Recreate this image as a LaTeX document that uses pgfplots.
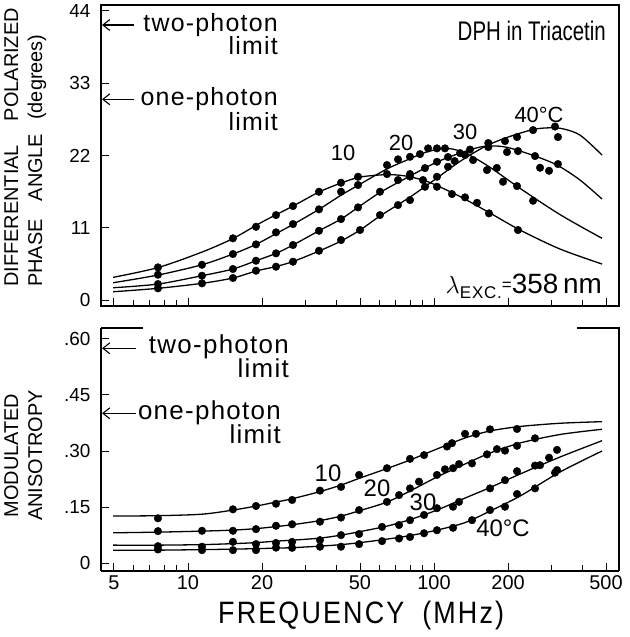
\documentclass[border=0pt]{standalone}
\usepackage{pgfplots}
\pgfplotsset{compat=1.18}
\usepackage{fontspec}
\setmainfont{Liberation Sans}
\newfontfamily\lsfont[LetterSpace=5]{Liberation Sans}
\newfontfamily\wsfont[LetterSpace=8]{Liberation Sans}
\usetikzlibrary{arrows.meta}
\usepackage{graphicx}
\newcommand{\fs}[1]{\fontsize{#1}{#1}\selectfont}
\begin{document}
\begin{tikzpicture}[x=1bp,y=1bp]
\useasboundingbox (0,0) rectangle (630,-637);
% ---------------- top panel ----------------
\begin{axis}[xmode=log, at={(101bp,-306bp)}, anchor=south west,
  scale only axis, width=518bp, height=301bp,
  xmin=4.43, xmax=565, ymin=-0.91, ymax=44.9,
  xtick={5,10,20,50,100,200,500},
  minor xtick={6,7,8,9,30,40,60,70,80,90,300,400},
  xticklabels={},
  ytick={0,11,22,33,44}, yticklabels={0,11,22,33,44},
  xtick pos=bottom, ytick pos=left, tick align=inside,
  major tick length=8bp, minor tick length=6bp,
  tick style={black, line width=0.9bp},
  axis line style={line width=1.1bp, black},
  yticklabel style={font=\fs{19}, xshift=-7bp}]
\addplot[black, line width=1.3bp, smooth, mark=none] coordinates {(4.96,3.45) (7.55,4.94) (11.4,7.30) (15.23,9.36) (20.0,11.87) (26.72,14.30) (34.08,16.43) (41.88,17.80) (50.04,18.71) (63.2,19.08) (72,19.0) (79.9,18.75) (90.2,18.25) (100.9,17.55) (127.6,15.75) (168.9,13.24) (223.7,10.65) (325.3,7.76) (482,5.48)};
\addplot[black, line width=1.3bp, smooth, mark=none] coordinates {(4.96,2.63) (7.55,3.80) (11.4,5.37) (15.23,7.00) (18.9,8.47) (22.79,10.1) (26.72,11.5) (34.08,13.80) (41.88,15.95) (49.11,17.45) (64.4,19.95) (79.9,21.5) (91,22.4) (105.8,23.0) (120,22.95) (140.1,22.0) (168.9,20.2) (223.7,17.0) (325.3,13.0) (482,9.39)};
\addplot[black, line width=1.3bp, smooth, mark=none] coordinates {(4.96,1.87) (7.55,2.43) (11.4,3.70) (15.23,4.72) (18.9,5.98) (22.79,7.10) (26.72,8.37) (34.08,10.54) (41.88,12.32) (49.11,14.10) (60.3,16.36) (79.9,18.87) (102.8,21.0) (127.6,22.36) (153.8,23.28) (177,23.45) (203.7,23.13) (257.4,21.91) (316.2,20.54) (392.3,18.26) (482,15.37)};
\addplot[black, line width=1.3bp, smooth, mark=none] coordinates {(4.96,1.26) (7.55,1.78) (11.4,2.54) (15.23,3.35) (18.9,4.41) (22.79,5.10) (26.72,5.86) (34.08,7.45) (41.88,8.98) (50.04,10.65) (60.3,12.78) (79.9,15.67) (102.8,18.56) (121.3,20.54) (140.1,22.06) (166,23.6) (203.7,24.9) (252.7,25.95) (290,26.2) (330,26.1) (392.3,25.1) (482,22.06)};
\addplot[black, only marks, mark=*, mark size=3.8bp] coordinates {(7.55,4.97) (15.23,9.39) (18.9,11.15) (22.79,12.93) (26.72,14.30) (34.08,16.48) (41.88,17.85) (49.11,18.76) (64.4,19.17) (79.9,18.79) (90.2,18.26) (102.8,17.24) (118.3,16.13) (133.7,15.62) (149.6,14.80) (167.3,13.19) (219.5,10.65)};
\addplot[black, only marks, mark=*, mark size=3.8bp] coordinates {(7.55,3.85) (11.4,5.37) (15.23,7.00) (18.9,8.47) (22.79,10.30) (26.72,11.56) (34.08,13.80) (41.88,16.48) (49.11,17.50) (64.4,20.54) (71.4,21.41) (79.9,21.80) (87.7,22.21) (94.6,23.08) (102.8,23.08) (110.8,23.08) (144.1,21.30) (164.2,19.78) (180,20.1) (190.8,18.0) (217.5,17.34) (252.7,15.11)};
\addplot[black, only marks, mark=*, mark size=3.8bp] coordinates {(7.55,2.43) (11.4,3.70) (15.23,4.72) (18.9,5.98) (22.79,7.10) (26.72,8.37) (34.08,10.54) (41.88,12.32) (49.11,14.10) (60.3,16.48) (71.4,18.26) (79.9,19.17) (91.9,20.08) (102.8,21.04) (114,21.76) (127.6,22.36) (140.1,22.9) (166.2,23.28) (198,22.52) (219.5,22.67) (257.4,21.91) (269.8,20.13) (293.5,19.67) (319,20.69)};
\addplot[black, only marks, mark=*, mark size=3.8bp] coordinates {(7.55,1.78) (11.4,2.54) (15.23,3.35) (18.9,4.46) (22.79,5.07) (26.72,5.83) (34.08,7.50) (41.88,9.13) (50.04,10.65) (60.3,12.93) (71.4,14.45) (79.9,15.21) (91.9,17.24) (102.8,18.76) (114,20.28) (121.3,21.15) (133.7,22.06) (166.2,23.89) (194.4,24.19) (217.5,24.80) (252.7,25.86) (310.4,26.40) (319,24.80)};
\end{axis}
% ---------------- bottom panel ----------------
\begin{axis}[xmode=log, at={(101bp,-571bp)}, anchor=south west,
  scale only axis, width=518bp, height=243bp,
  xmin=4.43, xmax=565, ymin=-0.021, ymax=0.629,
  xtick={5,10,20,50,100,200,500},
  minor xtick={6,7,8,9,30,40,60,70,80,90,300,400},
  xticklabels={5,10,20,50,100,200,500},
  ytick={0,0.15,0.3,0.45,0.6}, yticklabels={0,.15,.30,.45,.60},
  axis x line*=bottom, axis y line*=left,
  xtick pos=bottom, ytick pos=left, tick align=inside,
  major tick length=8bp, minor tick length=6bp,
  tick style={black, line width=0.9bp},
  axis line style={line width=1.1bp, black, -},
  yticklabel style={font=\fs{19}, xshift=-7bp},
  xticklabel style={font=\fs{20}, yshift=-1bp}]
\addplot[black, line width=1.3bp, smooth, mark=none] coordinates {(4.96,0.126) (7.55,0.127) (11.4,0.131) (15.23,0.142) (18.9,0.1527) (22.79,0.1634) (26.72,0.1728) (34.4,0.1915) (41.88,0.2089) (50.04,0.2277) (64.4,0.2531) (79.9,0.2759) (102.8,0.3054) (133.7,0.3348) (168.9,0.3536) (223.7,0.3656) (325.3,0.3742) (482,0.3785)};
\addplot[black, line width=1.3bp, smooth, mark=none] coordinates {(4.96,0.0812) (7.55,0.083) (11.4,0.0857) (15.23,0.0884) (18.9,0.0924) (22.79,0.0978) (26.72,0.1031) (34.4,0.1138) (41.88,0.1259) (50.04,0.1406) (64.4,0.1634) (79.9,0.1929) (102.8,0.2304) (133.7,0.2652) (168.9,0.2946) (223.7,0.3214) (325.3,0.3442) (482,0.3581)};
\addplot[black, line width=1.3bp, smooth, mark=none] coordinates {(4.96,0.0482) (7.55,0.0482) (11.4,0.0496) (15.23,0.0522) (18.9,0.0549) (22.79,0.0589) (26.72,0.0616) (34.4,0.067) (41.88,0.075) (50.04,0.0844) (64.4,0.0991) (79.9,0.1165) (102.8,0.142) (133.7,0.1741) (168.9,0.2022) (223.7,0.2384) (325.3,0.2839) (482,0.3276)};
\addplot[black, line width=1.3bp, smooth, mark=none] coordinates {(4.96,0.0348) (7.55,0.0348) (11.4,0.0362) (15.23,0.0375) (18.9,0.0388) (22.79,0.0402) (26.72,0.0415) (34.4,0.0455) (41.88,0.0496) (50.04,0.0549) (64.4,0.0643) (79.9,0.0737) (102.8,0.0884) (133.7,0.1085) (168.9,0.1393) (223.7,0.1795) (325.3,0.2438) (482,0.3)};
\addplot[black, only marks, mark=*, mark size=3.8bp] coordinates {(7.55,0.120) (15.23,0.144) (18.9,0.153) (22.79,0.159) (26.5,0.169) (34.4,0.194) (41.88,0.204) (49.6,0.236) (64.4,0.254) (79.9,0.279) (91.1,0.289) (112.9,0.312) (118.3,0.321) (133.7,0.346) (148.2,0.346) (168.9,0.358) (217.5,0.359)};
\addplot[black, only marks, mark=*, mark size=3.8bp] coordinates {(7.55,0.0857) (11.4,0.0866) (15.23,0.0866) (18.9,0.091) (22.79,0.100) (26.5,0.104) (34.4,0.111) (41.88,0.122) (49.6,0.142) (64.4,0.164) (72.1,0.182) (79.9,0.200) (86.9,0.218) (102.8,0.236) (110.8,0.251) (119.5,0.254) (126.4,0.265) (142.7,0.267) (164.2,0.291) (180.3,0.305) (194.4,0.301) (217.5,0.314) (257.4,0.334)};
\addplot[black, only marks, mark=*, mark size=3.8bp] coordinates {(7.55,0.0455) (11.4,0.044) (15.23,0.057) (18.9,0.051) (22.79,0.054) (26.5,0.057) (34.4,0.0616) (41.88,0.075) (49.6,0.078) (61.5,0.097) (72.1,0.102) (79.9,0.115) (91.1,0.129) (102.8,0.147) (119.5,0.151) (126.4,0.164) (168.9,0.200) (194.4,0.222) (217.5,0.246) (257.4,0.261) (269.8,0.262) (293.5,0.282) (316.2,0.303)};
\addplot[black, only marks, mark=*, mark size=3.8bp] coordinates {(7.55,0.0367) (11.4,0.0348) (15.23,0.0348) (18.9,0.0348) (22.79,0.0415) (26.5,0.041) (34.4,0.044) (41.88,0.044) (49.6,0.051) (61.5,0.059) (72.1,0.066) (79.9,0.070) (91.1,0.080) (102.8,0.088) (119.5,0.0946) (142.7,0.115) (168.9,0.142) (194.4,0.151) (217.5,0.185) (257.4,0.200) (310.4,0.242) (316.2,0.249)};
\end{axis}
% partial frame of bottom panel
\draw[line width=1.1bp] (101,-328) -- (143,-328);
\draw[line width=1.1bp] (577,-328) -- (619,-328) -- (619,-571);
% limit arrows and texts
\tikzset{limarrow/.style={{Straight Barb[length=7bp,width=11bp,line width=1.1bp]}-, line width=1.1bp}}
\draw[limarrow] (102,-25) -- (134,-25);
\node[anchor=base east, inner sep=0pt, font=\lsfont\fs{25}] at (278,-32) {two-photon};
\node[anchor=base east, inner sep=0pt, font=\lsfont\fs{25}] at (278,-55) {limit};
\draw[limarrow] (102,-99.3) -- (134,-99.3);
\node[anchor=base east, inner sep=0pt, font=\lsfont\fs{25}] at (278,-106) {one-photon};
\node[anchor=base east, inner sep=0pt, font=\lsfont\fs{25}] at (278,-131) {limit};
\draw[limarrow] (102,-348.3) -- (136,-348.3);
\node[anchor=base east, inner sep=0pt, font=\lsfont\fs{26}] at (289,-353) {two-photon};
\node[anchor=base east, inner sep=0pt, font=\lsfont\fs{26}] at (289,-377) {limit};
\draw[limarrow] (102,-413.3) -- (136,-413.3);
\node[anchor=base east, inner sep=0pt, font=\lsfont\fs{26}] at (281,-419) {one-photon};
\node[anchor=base east, inner sep=0pt, font=\lsfont\fs{26}] at (281,-443) {limit};
% titles
\node[anchor=base east, inner sep=0pt] at (606,-41) {\scalebox{0.76}[1]{\fs{27}DPH in Triacetin}};
\node[anchor=base east, inner sep=0pt] at (602,-293) {\fs{28}$\lambda$\raisebox{-5bp}{\lsfont\fs{17}EXC.}\raisebox{3bp}{\fs{17}=}358\,nm};
% curve labels
\node[font=\fs{22}] at (343,-153) {10};
\node[font=\fs{22}] at (401,-143) {20};
\node[font=\fs{22}] at (465,-132) {30};
\node[font=\fs{22}] at (539,-115) {40°C};
\node[font=\fs{24}] at (328,-473) {10};
\node[font=\fs{24}] at (377,-488) {20};
\node[font=\fs{24}] at (423,-502) {30};
\node[font=\fs{24}] at (503,-528) {40°C};
% axis titles
\node[rotate=90, anchor=base west, inner sep=0pt, font=\fs{20}] at (18,-287) {DIFFERENTIAL\hspace{24bp}POLARIZED};
\node[rotate=90, anchor=base west, inner sep=0pt, font=\fs{20}] at (42,-287) {PHASE\hspace{18bp}ANGLE\hspace{14bp}(degrees)};
\node[rotate=90, anchor=base, inner sep=0pt, font=\fs{20}] at (18,-455.5) {MODULATED};
\node[rotate=90, anchor=base, inner sep=0pt, font=\fs{20}] at (42,-455.5) {ANISOTROPY};
\node[anchor=base west, inner sep=0pt] at (218,-623) {\scalebox{1}[1.15]{\wsfont\fs{27}FREQUENCY\hspace{18bp}(MHz)}};
\end{tikzpicture}
\end{document}
